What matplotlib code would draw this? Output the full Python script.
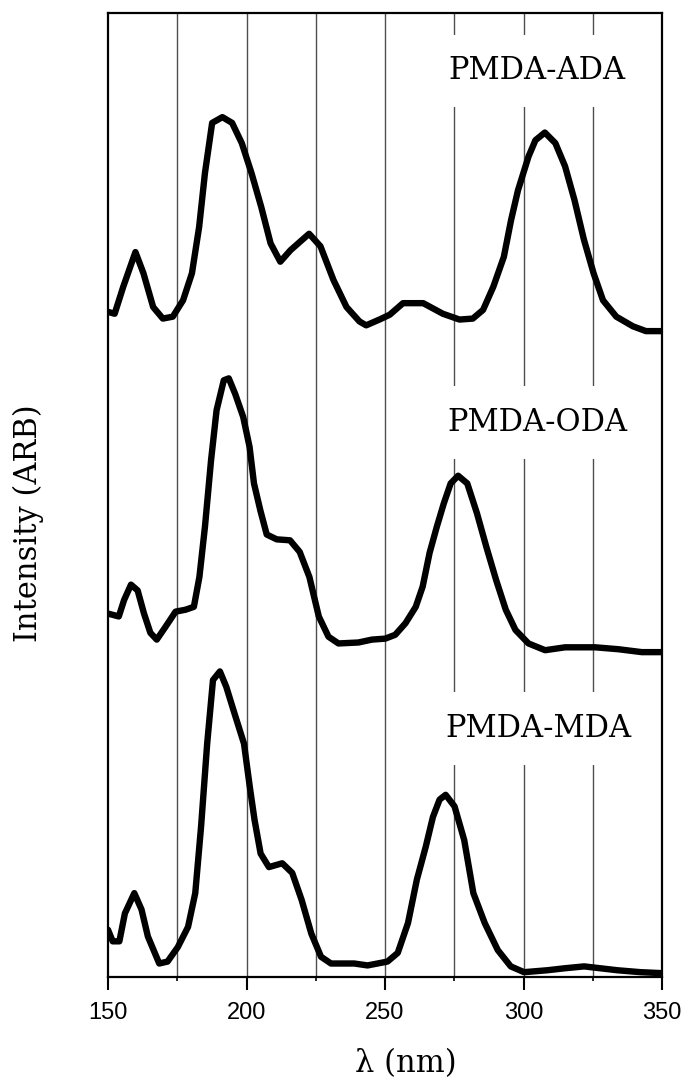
import matplotlib
matplotlib.use("Agg")
import matplotlib.pyplot as plt
from matplotlib.ticker import MultipleLocator

# ---- data (wavelength in nm, intensity in arbitrary units, curves offset) ----
ada_wl = [150.0, 152.4, 155.5, 159.9, 162.8, 166.3, 169.8, 173.4, 177.1, 180.3,
          182.9, 185.0, 187.6, 191.3, 194.8, 198.3, 201.8, 205.3, 208.7, 212.2,
          215.9, 222.6, 226.7, 231.4, 236.1, 240.8, 243.2, 248.0, 251.7, 256.5,
          263.8, 270.9, 276.9, 281.7, 285.4, 289.1, 292.9, 295.5, 298.0, 301.8,
          304.3, 307.7, 311.5, 315.0, 318.4, 321.8, 325.3, 328.7, 333.5, 339.5,
          344.2, 350.0]
ada_int = [69.0, 68.8, 71.6, 75.2, 73.0, 69.5, 68.3, 68.5, 70.2, 73.0,
           77.8, 83.4, 88.6, 89.2, 88.6, 86.5, 83.4, 79.9, 76.1, 74.2,
           75.4, 77.1, 75.8, 72.3, 69.5, 68.0, 67.6, 68.2, 68.7, 69.9,
           69.9, 68.8, 68.2, 68.3, 69.2, 71.6, 74.7, 78.5, 81.6, 85.1,
           86.8, 87.6, 86.5, 84.1, 80.6, 76.5, 73.0, 70.2, 68.5, 67.5,
           67.0, 67.0]

oda_wl = [150.0, 153.9, 155.8, 158.3, 160.7, 163.0, 165.3, 167.6, 170.7, 174.4,
          178.0, 181.0, 183.0, 185.0, 187.2, 189.2, 191.8, 193.6, 195.9, 198.8,
          201.1, 202.7, 205.0, 207.3, 210.9, 215.7, 219.2, 222.7, 226.1, 229.6,
          233.2, 240.4, 245.3, 250.1, 253.7, 257.4, 261.1, 263.6, 266.1, 268.7,
          271.2, 273.7, 276.4, 279.7, 283.2, 286.6, 290.1, 293.6, 297.1, 301.8,
          307.8, 315.0, 325.9, 334.3, 342.7, 350.0]
oda_int = [37.7, 37.4, 39.1, 40.7, 40.1, 37.7, 35.7, 35.0, 36.3, 37.9,
           38.1, 38.4, 41.5, 46.7, 53.6, 58.8, 61.9, 62.1, 60.5, 58.1,
           55.0, 51.2, 48.4, 45.9, 45.4, 45.3, 44.1, 41.5, 37.4, 35.3,
           34.6, 34.7, 35.0, 35.1, 35.5, 36.7, 38.4, 40.5, 44.0, 46.7,
           49.1, 51.2, 52.0, 51.2, 48.1, 44.6, 41.2, 38.1, 36.0, 34.6,
           33.9, 34.2, 34.2, 34.0, 33.7, 33.7]

mda_wl = [150.0, 151.7, 154.1, 156.1, 159.5, 162.1, 164.4, 168.5, 171.5, 175.2,
          178.9, 181.5, 183.6, 185.8, 187.9, 190.4, 192.7, 195.6, 199.1, 201.2,
          202.9, 205.1, 208.1, 212.9, 216.5, 219.9, 223.4, 226.9, 230.5, 238.9,
          243.7, 250.9, 254.6, 258.3, 261.5, 264.7, 267.3, 269.7, 271.9, 275.1,
          278.6, 281.9, 286.0, 290.7, 295.4, 300.2, 308.6, 314.7, 321.9, 327.9,
          333.9, 342.3, 350.0]
mda_int = [4.9, 3.7, 3.7, 6.6, 8.7, 7.0, 4.2, 1.4, 1.6, 3.1,
           5.2, 8.7, 15.6, 24.2, 30.8, 31.7, 30.1, 27.4, 24.2, 19.7,
           16.3, 12.8, 11.4, 11.8, 10.8, 8.0, 4.5, 2.1, 1.4, 1.4,
           1.2, 1.6, 2.5, 5.6, 10.1, 13.5, 16.6, 18.4, 18.9, 17.7,
           14.2, 8.7, 5.6, 2.8, 1.1, 0.5, 0.7, 0.9, 1.1, 0.9,
           0.7, 0.5, 0.4]

labels = ["PMDA-ADA", "PMDA-ODA", "PMDA-MDA"]
label_x = [305.0, 305.0, 305.5]
label_y = [94.0, 57.5, 25.8]

xticks = [150, 200, 250, 300, 350]
grid_x = [175, 200, 225, 250, 275, 300, 325]

# ---- figure ----
fig = plt.figure(figsize=(6.88, 10.83), dpi=100)
ax = fig.add_axes([108 / 688, (1083 - 977) / 1083, (662 - 108) / 688, 964 / 1083])

for gx in grid_x:
    ax.axvline(gx, color="0.3", lw=1.0, zorder=1)

for wl, it in [(ada_wl, ada_int), (oda_wl, oda_int), (mda_wl, mda_int)]:
    ax.plot(wl, it, color="black", lw=4.6, solid_joinstyle="round",
            solid_capstyle="round", zorder=3)

serif = ["DejaVu Serif"]
for lab, lx, ly in zip(labels, label_x, label_y):
    ax.text(lx, ly, lab, ha="center", va="center", fontsize=22,
            family=serif, zorder=2,
            bbox=dict(facecolor="white", edgecolor="none", pad=15))

ax.set_xlim(150, 350)
ax.set_ylim(0, 100)
ax.set_xticks(xticks)
ax.xaxis.set_minor_locator(MultipleLocator(25))
ax.set_yticks([])
ax.tick_params(axis="x", which="major", direction="out", length=9, width=1.5,
               pad=9, labelsize=17)
ax.tick_params(axis="x", which="minor", direction="out", length=3, width=1.2)
for lbl in ax.get_xticklabels():
    lbl.set_family(["Liberation Sans"])
for sp in ax.spines.values():
    sp.set_linewidth(1.6)

ax.set_xlabel("λ (nm)", fontsize=22, family=serif, va="center")
ax.xaxis.set_label_coords((406 - 108) / 554, -(1064 - 977) / 964)
ax.set_ylabel("Intensity (ARB)", fontsize=22, family=serif, va="center")
ax.yaxis.set_label_coords(-(108 - 28) / 554, (977 - 523) / 964)

fig.savefig("out.png", dpi=100)
